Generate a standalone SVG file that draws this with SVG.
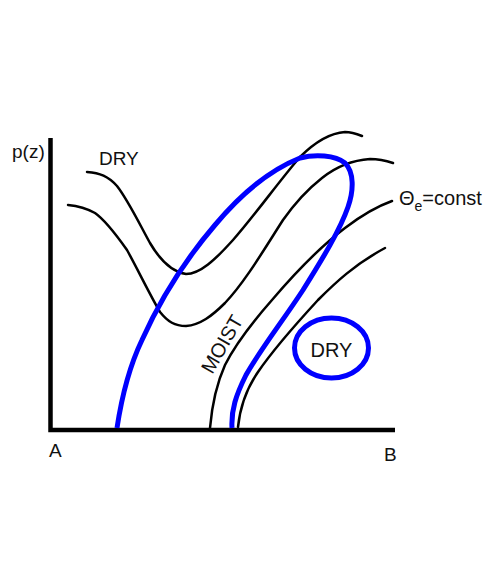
<svg xmlns="http://www.w3.org/2000/svg" width="500" height="565" viewBox="0 0 500 565">
<style>
text{font-family:"Liberation Sans",Arial,sans-serif;font-size:19px;fill:#111}
.k{fill:none;stroke:#000;stroke-width:2.5;stroke-linecap:round;stroke-linejoin:round}
.b{fill:none;stroke:#0000ff;stroke-width:5;stroke-linecap:butt;stroke-linejoin:round}
.ax{fill:none;stroke:#000;stroke-width:4.5}
</style>
<rect width="500" height="565" fill="#fff"/>
<g id="axes">
<path class="ax" d="M50.5,138 V430 H395"/>
</g>
<g id="connectors">
<path id="curve1" class="k" d="M87,172 C100,173 108,176 117,186 C128,200 140,225 150,243 C160,260 172,272 186,274 C200,274 215,260 233,240 C255,215 280,180 300,157 C315,142 330,133 345,132 C352,132 357,134 362,136"/>
<path id="curve2" class="k" d="M68,205 C78,206 86,208 95,213 C105,220 115,233 127,250 C137,268 150,295 160,312 C168,322 175,326 186,326 C200,325 212,316 225,303 C245,282 265,248 283,220 C295,203 308,189 322,178 C337,166 355,160 370,159 C380,159 387,161 393,163"/>
<path id="curve3" class="k" d="M210,428 C212,405 216,385 225,365 C235,345 250,325 272,300 C295,273 320,247 345,228 C362,215 378,206 392,201"/>
<path id="curve4" class="k" d="M238,427 C240,408 247,388 258,372 C273,350 295,325 318,300 C335,283 355,264 385,248"/>
<path id="blue" class="b" d="M117,428 C122,395 130,365 142,340 C160,300 185,260 215,225 C240,195 270,170 300,158 C315,154 335,155 345,163 C354,172 354,190 348,207 C340,230 323,258 303,290 C282,322 260,350 246,375 C236,395 231,410 232,428"/>
</g>
<g id="dry-circle">
<ellipse cx="331.5" cy="348" rx="37" ry="30" class="b"/>
<text x="331.5" y="357" text-anchor="middle" style="font-size:20px">DRY</text>
</g>
<g id="labels">
<text x="12" y="158">p(z)</text>
<text x="99" y="165">DRY</text>
<text x="49" y="457">A</text>
<text x="384" y="461">B</text>
<text x="399" y="205" style="font-size:20px">Θ<tspan style="font-size:14px" dy="6">e</tspan><tspan dy="-6">=const</tspan></text>
<text transform="translate(222,344) rotate(-60)" x="0" y="7" text-anchor="middle" style="font-size:20px">MOIST</text>
</g>
</svg>
